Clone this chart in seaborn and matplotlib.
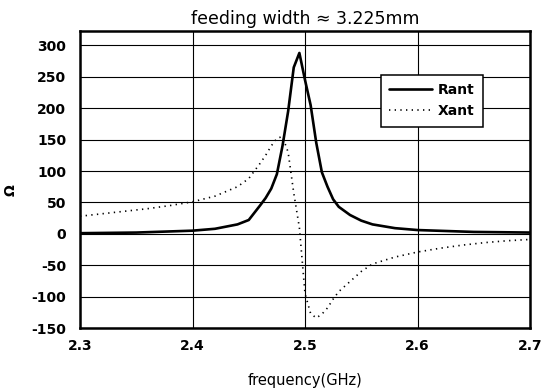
import numpy as np
import pandas as pd
import matplotlib
matplotlib.use("Agg")
import matplotlib.pyplot as plt
import seaborn as sns

# Antenna input impedance versus frequency
freq_r = [2.30, 2.35, 2.40, 2.42, 2.44, 2.45, 2.46, 2.465, 2.47, 2.475, 2.48,
          2.485, 2.49, 2.495, 2.50, 2.505, 2.51, 2.515, 2.52, 2.525, 2.53,
          2.54, 2.55, 2.56, 2.58, 2.60, 2.65, 2.70]
rant = [1, 2, 5, 8, 15, 22, 45, 57, 72, 95, 140,
        195, 265, 288, 245, 205, 145, 98, 75, 55, 43,
        30, 21, 15, 9, 6, 3, 2]

freq_x = [2.30, 2.32, 2.34, 2.36, 2.38, 2.40, 2.42, 2.44, 2.45, 2.455, 2.46,
          2.465, 2.47, 2.475, 2.48, 2.485, 2.49, 2.495, 2.50, 2.505, 2.51,
          2.515, 2.52, 2.525, 2.53, 2.54, 2.55, 2.56, 2.58, 2.60, 2.62,
          2.64, 2.66, 2.68, 2.70]
xant = [28, 32, 36, 40, 45, 51, 60, 75, 88, 100, 112,
        125, 140, 152, 155, 130, 65, 10, -95, -127, -134,
        -128, -118, -104, -92, -76, -60, -48, -37, -29, -23,
        -18, -14, -11, -9]

x_ticks = [2.3, 2.4, 2.5, 2.6, 2.7]
y_ticks = [-150, -100, -50, 0, 50, 100, 150, 200, 250, 300]

sns.set_style("white")
plt.rcParams.update({
    "font.family": ["DejaVu Sans"],
    "text.color": "black",
    "axes.labelcolor": "black",
    "xtick.color": "black",
    "ytick.color": "black",
})

W, H = 543, 392
fig = plt.figure(figsize=(W / 100, H / 100), dpi=100)
ax = fig.add_axes([80 / W, 1 - 328 / H, 450 / W, 297 / H])

df_r = pd.DataFrame({"f": freq_r, "v": rant})
df_x = pd.DataFrame({"f": freq_x, "v": xant})

sns.lineplot(data=df_r, x="f", y="v", ax=ax, color="black", lw=1.9,
             label="Rant", zorder=3)
sns.lineplot(data=df_x, x="f", y="v", ax=ax, color="black", lw=1.2,
             linestyle=(0, (0.8, 2.6)), label="Xant", zorder=3)

ax.set_xlim(2.3, 2.7)
ax.set_ylim(-150, 323)
ax.set_xticks(x_ticks)
ax.set_xticklabels([f"{t:g}" for t in x_ticks])
ax.set_yticks(y_ticks)
ax.set_yticklabels([str(t) for t in y_ticks])
ax.grid(True, color="black", lw=0.8)
ax.tick_params(length=0, labelsize=10, colors="black")
ax.tick_params(axis="x", pad=8)
ax.tick_params(axis="y", pad=10)
for lab in ax.get_xticklabels() + ax.get_yticklabels():
    lab.set_fontweight("bold")
for sp in ax.spines.values():
    sp.set_visible(True)
    sp.set_color("black")
    sp.set_linewidth(1.8)

ax.set_title("feeding width \u2248 3.225mm", fontsize=12.5, pad=5,
             color="black")
ax.set_xlabel("frequency(GHz)", fontsize=10.5, color="black")
ax.xaxis.set_label_coords(305 / W, 1 - 373 / H, transform=fig.transFigure)
ax.set_ylabel("\u03a9", fontsize=10, fontweight="bold", color="black")
ax.yaxis.set_label_coords(18 / W, 1 - 190 / H, transform=fig.transFigure)

leg = ax.legend(loc="upper left", bbox_to_anchor=(381 / W, 1 - 75 / H),
                bbox_transform=fig.transFigure, frameon=True, fancybox=False,
                framealpha=1, edgecolor="black", fontsize=10,
                handlelength=3.1, handletextpad=0.4, borderpad=0.6,
                labelspacing=0.5, borderaxespad=0)
leg.get_frame().set_linewidth(1.1)
for t in leg.get_texts():
    t.set_fontweight("bold")
    t.set_color("black")

fig.savefig("out.png", dpi=100)
